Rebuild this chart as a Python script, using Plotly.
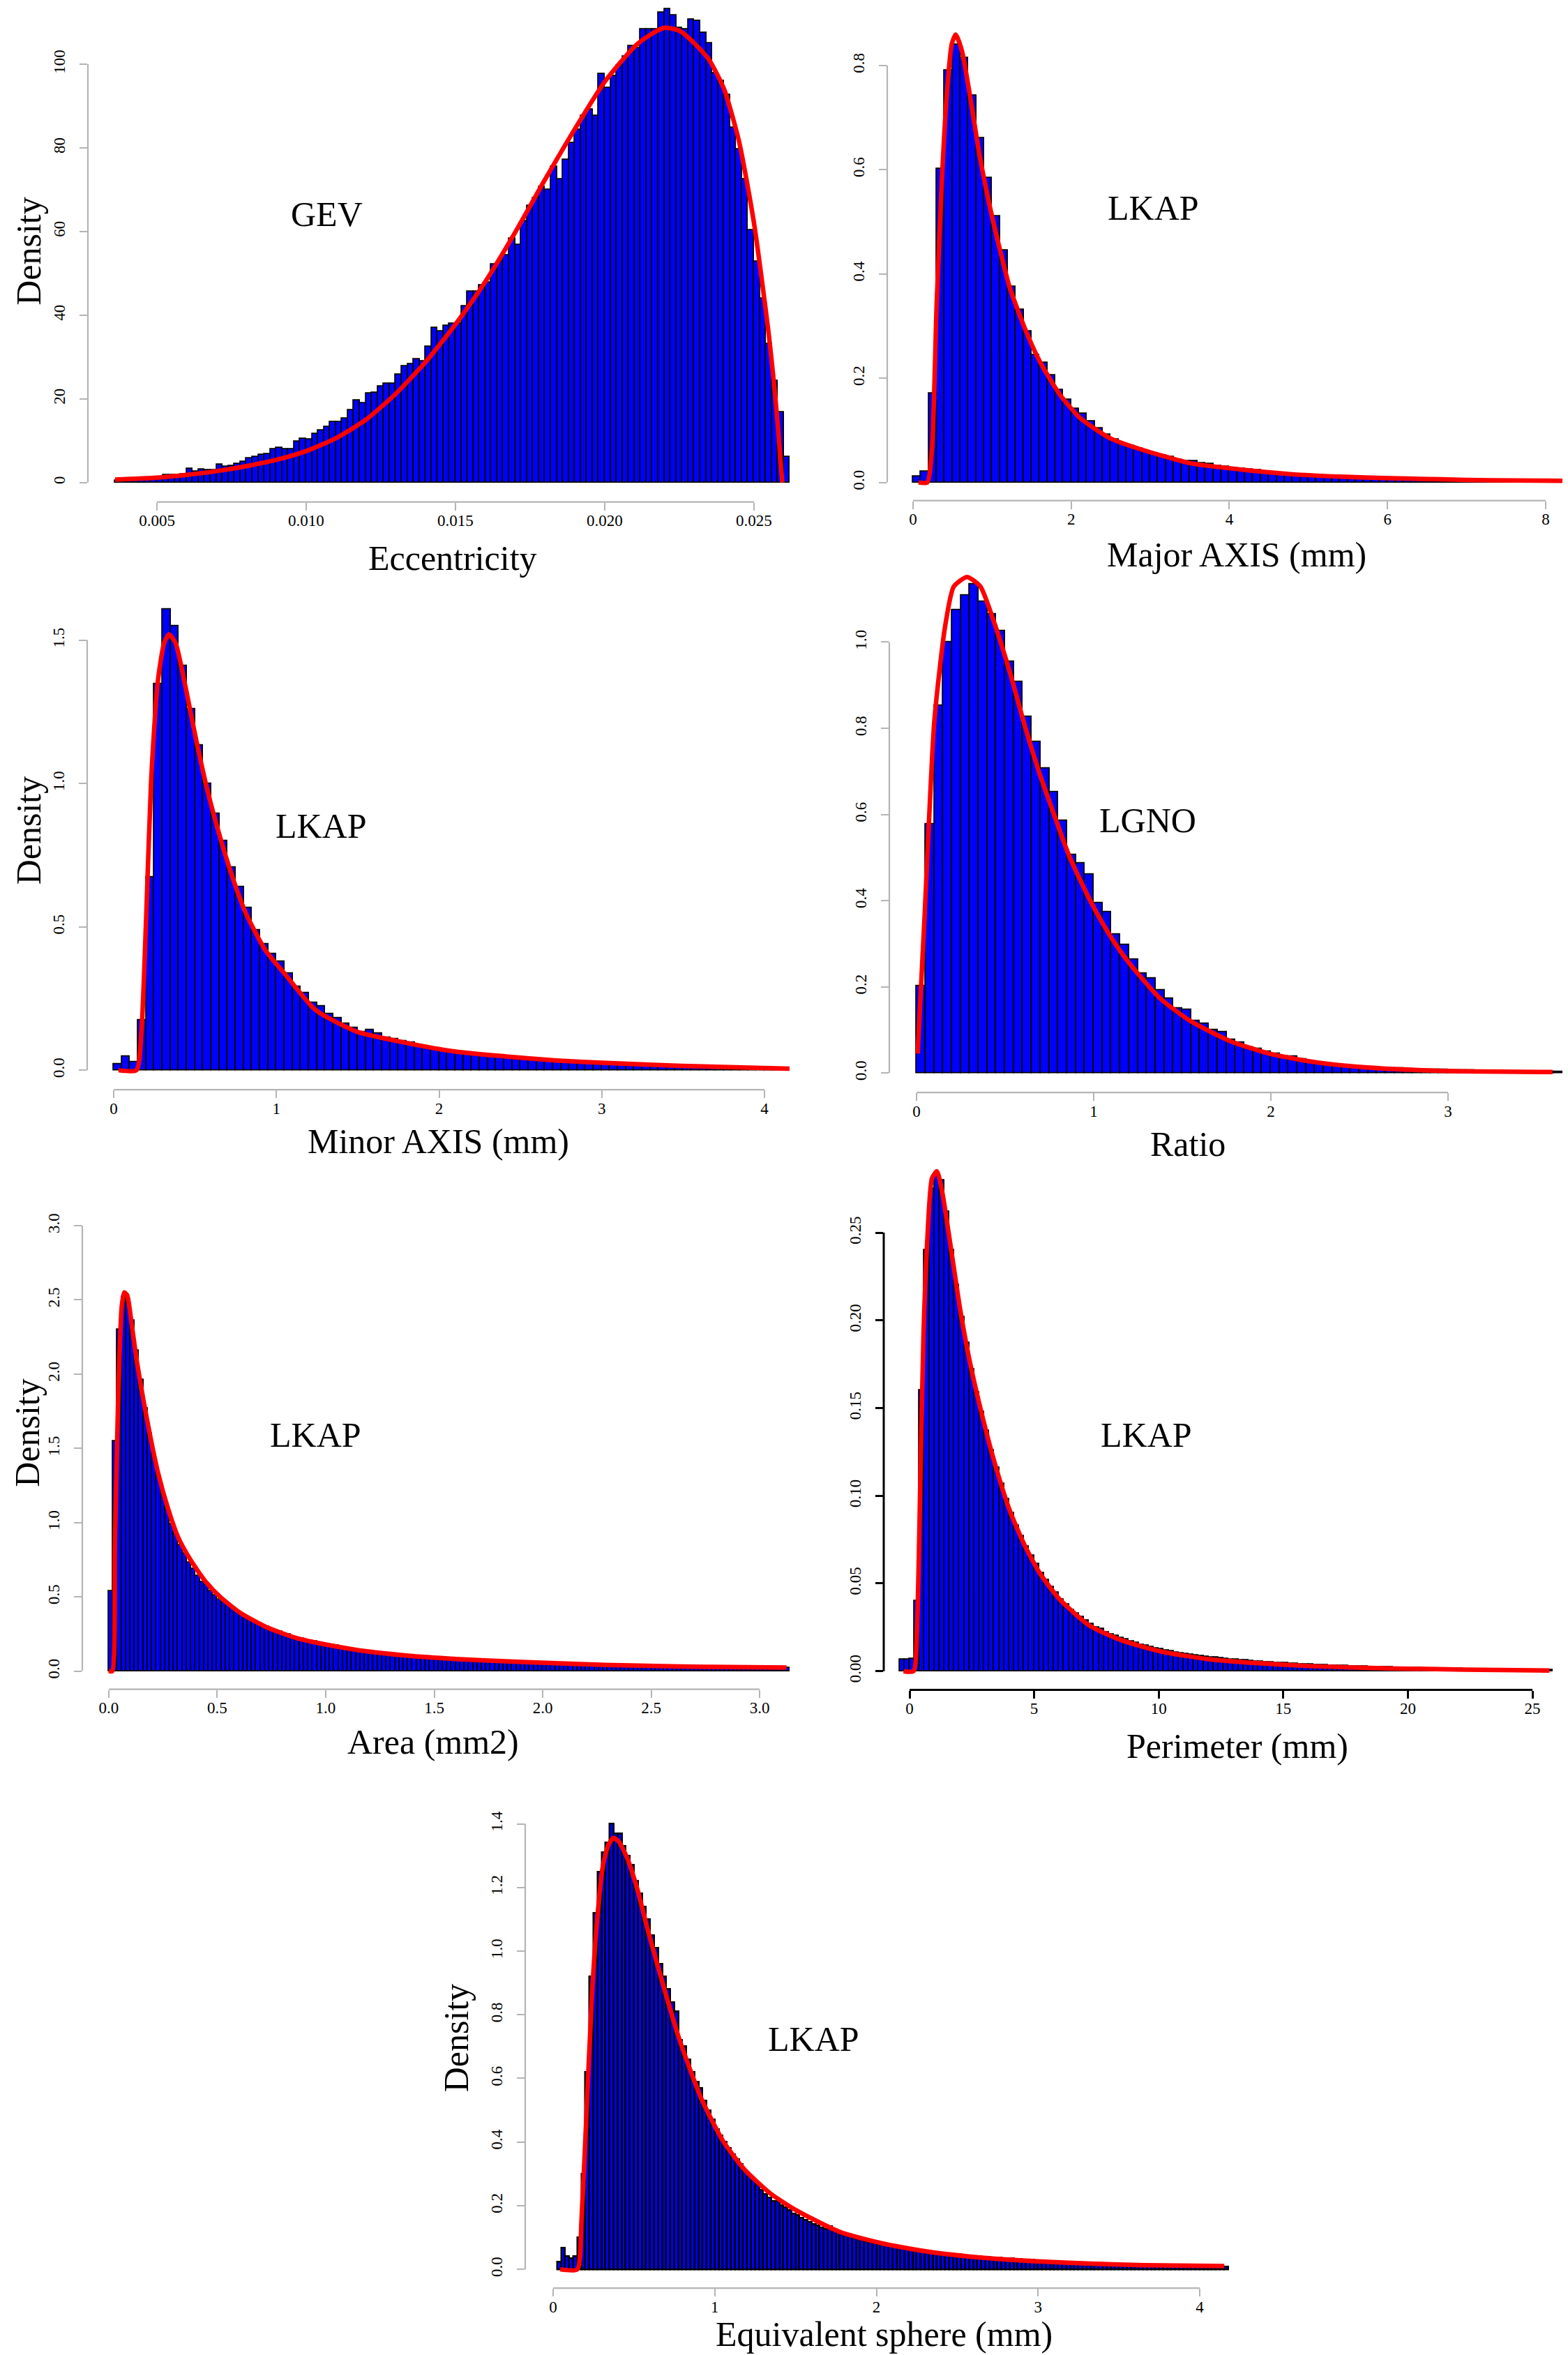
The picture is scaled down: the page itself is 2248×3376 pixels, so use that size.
import numpy as np
import plotly.graph_objects as go

W, H = 2248, 3376
BLUE = "#0000FF"
RED = "#FF0000"
GREY = "#B4B4B4"
FONT = "Liberation Serif"

# ---------------- data ----------------
# Eccentricity (GEV)
ecc_start, ecc_step = 0.0036, 0.0002
ecc_density = [0.5, 0.55, 0.6, 0.7, 0.7, 0.8, 0.9, 1.2, 1.7, 1.7, 1.7, 2.0, 3.2, 2.6, 3.1,
               3.0, 3.0, 4.2, 3.8, 3.9, 4.5, 5.0, 5.7, 6.1, 6.6, 6.8, 7.9, 8.3, 8.0, 8.0,
               9.7, 10.4, 10.3, 11.6, 12.4, 13.3, 14.4, 14.4, 15.2, 17.2, 19.6, 19.0, 21.2,
               21.4, 22.9, 23.6, 23.6,
               25.8, 27.8, 28.3, 29.5, 29.0, 32.4, 37.0, 36.2, 37.4, 37.9, 37.9, 42.2, 45.6,
               45.6, 47.1, 47.8, 52.1, 52.8, 54.3, 58.3, 56.8, 62.5, 66.2, 67.9, 70.7, 69.9,
               75.5, 72.4, 77.2, 81.1, 84.3, 87.6, 89.1, 87.6, 97.6, 94.3, 97.2, 99.7, 101.8,
               104.4, 103.8, 108.3, 108.3, 108.3, 112.3, 113.2, 111.6, 108.6, 108.3, 110.7,
               110.3, 107.5, 105.0, 97.8, 96.0, 92.6, 84.8, 79.6, 72.5, 60.3, 52.8, 43.9,
               33.1, 24.2, 16.7, 6.1]
ecc_fit_x = [0.0036, 0.0050, 0.0060, 0.0070, 0.0080, 0.0090, 0.0100, 0.0110, 0.0120, 0.0130,
             0.0140, 0.0150, 0.0160, 0.0170, 0.0180, 0.0190, 0.0200, 0.0210, 0.0215, 0.0220,
             0.0225, 0.0230, 0.0235, 0.0240, 0.0245, 0.0250, 0.0255, 0.0258, 0.0259, 0.02595]
ecc_fit_y = [0.7, 1.15, 1.8, 2.7, 3.9, 5.4, 7.5, 10.6, 15.0, 21.2, 28.8, 37.8, 48.0, 59.8, 72.4,
             84.5, 95.8, 104.2, 106.9, 108.7, 108.0, 105.0, 101.0, 94.0, 81.5, 62.0, 35.0,
             13.5, 4.0, 0.0]

# Major axis (LKAP)
major_start, major_step = 0.0, 0.1
major_density = [0.012, 0.021, 0.171, 0.602, 0.790, 0.840, 0.814, 0.742, 0.661, 0.584,
                 0.510, 0.445, 0.375, 0.331, 0.290, 0.244, 0.230, 0.205, 0.177, 0.159,
                 0.141, 0.132, 0.117, 0.104, 0.092, 0.083, 0.074, 0.071, 0.065, 0.060,
                 0.055, 0.051, 0.049, 0.044, 0.041, 0.041, 0.037, 0.035, 0.032, 0.030,
                 0.028, 0.026, 0.025, 0.023, 0.021, 0.019, 0.018, 0.017, 0.016, 0.015,
                 0.014, 0.013, 0.012, 0.012, 0.011, 0.010, 0.010, 0.009, 0.009, 0.008,
                 0.008, 0.007, 0.007, 0.007, 0.006, 0.006, 0.006, 0.005, 0.005, 0.005,
                 0.004, 0.004, 0.004, 0.004, 0.003, 0.003, 0.003, 0.003, 0.003, 0.002,
                 0.002, 0.002, 0.002, 0.002]
major_fit_x = [0.07, 0.18, 0.24, 0.30, 0.37, 0.43, 0.49, 0.54, 0.62, 0.72, 0.84, 0.97, 1.09,
               1.22, 1.41, 1.60, 1.85, 2.11, 2.49, 2.87, 3.50, 4.13, 4.77, 5.40, 6.03, 6.66,
               7.30, 8.36]
major_fit_y = [0.0, 0.0, 0.064, 0.346, 0.594, 0.749, 0.841, 0.859, 0.827, 0.742, 0.629, 0.530,
               0.452, 0.375, 0.297, 0.233, 0.170, 0.124, 0.085, 0.064, 0.037, 0.025, 0.016,
               0.011, 0.008, 0.006, 0.004, 0.003]

# Minor axis (LKAP)
minor_start, minor_step = 0.0, 0.05
minor_density = [0.020, 0.048, 0.029, 0.175, 0.672, 1.347, 1.606, 1.548, 1.409, 1.259,
                 1.133, 1.000, 0.895, 0.799, 0.706, 0.638, 0.566, 0.488, 0.440, 0.406,
                 0.379, 0.338, 0.290, 0.270, 0.236, 0.222, 0.195, 0.181, 0.161, 0.147,
                 0.134, 0.140, 0.127, 0.113, 0.109, 0.102, 0.097, 0.086, 0.080, 0.075,
                 0.072, 0.067, 0.063, 0.059, 0.056, 0.053, 0.050, 0.047, 0.044, 0.042,
                 0.041, 0.040, 0.038, 0.033, 0.031, 0.029, 0.027, 0.026, 0.025, 0.024,
                 0.022, 0.020, 0.019, 0.018, 0.016, 0.015, 0.014, 0.013, 0.012, 0.011,
                 0.010, 0.010, 0.009, 0.008, 0.008, 0.007, 0.007, 0.006, 0.006, 0.006,
                 0.005, 0.005, 0.005, 0.004]
minor_fit_x = [0.03, 0.14, 0.17, 0.20, 0.23, 0.27, 0.31, 0.34, 0.38, 0.44, 0.50, 0.57, 0.63,
               0.72, 0.81, 0.93, 1.06, 1.24, 1.49, 1.80, 2.10, 2.41, 2.72, 3.03, 3.49, 4.16]
minor_fit_y = [0.0, 0.0, 0.13, 0.54, 1.01, 1.35, 1.49, 1.52, 1.49, 1.34, 1.17, 0.99, 0.86,
               0.69, 0.55, 0.42, 0.33, 0.21, 0.135, 0.095, 0.065, 0.048, 0.034, 0.025,
               0.015, 0.005]

# Ratio (LGNO)
ratio_start, ratio_step = 0.0, 0.05
ratio_density = [0.202, 0.578, 0.852, 1.000, 1.074, 1.108, 1.135, 1.094, 1.065, 1.026,
                 0.954, 0.908, 0.827, 0.768, 0.707, 0.651, 0.585, 0.506, 0.487, 0.460,
                 0.394, 0.374, 0.322, 0.297, 0.263, 0.231, 0.219, 0.192, 0.172, 0.150,
                 0.147, 0.120, 0.115, 0.100, 0.095, 0.077, 0.071, 0.059, 0.056, 0.050,
                 0.044, 0.038, 0.038, 0.032, 0.027, 0.024, 0.021, 0.018, 0.016, 0.015,
                 0.013, 0.012, 0.011, 0.010, 0.010, 0.009, 0.008, 0.008, 0.007, 0.007,
                 0.006, 0.005, 0.005, 0.004, 0.004, 0.004, 0.003, 0.003, 0.003, 0.002,
                 0.002, 0.002, 0.002]
ratio_fit_x = [0.006, 0.045, 0.10, 0.16, 0.21, 0.285, 0.36, 0.44, 0.53, 0.61, 0.69, 0.78,
               0.86, 0.98, 1.09, 1.20, 1.37, 1.54, 1.77, 1.99, 2.25, 2.53, 2.95, 3.59]
ratio_fit_y = [0.045, 0.363, 0.816, 1.034, 1.129, 1.151, 1.129, 1.043, 0.925, 0.807, 0.700,
               0.595, 0.505, 0.400, 0.320, 0.255, 0.175, 0.122, 0.074, 0.045, 0.025, 0.013,
               0.005, 0.002]

# Area (LKAP)
area_start, area_step = 0.0, 0.02
area_density = [0.54, 1.55, 2.30, 2.52, 2.50, 2.36, 2.16, 1.96, 1.77, 1.60,
                1.45, 1.31, 1.19, 1.09, 0.99, 0.92, 0.85, 0.79, 0.73, 0.69,
                0.64, 0.60, 0.58, 0.54, 0.51, 0.48, 0.46, 0.45, 0.42, 0.40,
                0.39, 0.37, 0.35, 0.34, 0.32, 0.31, 0.30, 0.28, 0.27, 0.265,
                0.25, 0.245, 0.235, 0.225, 0.22, 0.21, 0.205, 0.20, 0.19, 0.185,
                0.18, 0.175, 0.17, 0.165, 0.16, 0.155, 0.15, 0.145, 0.14, 0.136,
                0.132, 0.128, 0.125, 0.121, 0.118, 0.115, 0.112, 0.109, 0.106, 0.104,
                0.101, 0.099, 0.097, 0.095, 0.093, 0.091, 0.089, 0.087, 0.085, 0.083,
                0.082, 0.080, 0.079, 0.077, 0.076, 0.074, 0.073, 0.072, 0.070, 0.069,
                0.068, 0.067, 0.066, 0.064, 0.063, 0.062, 0.061, 0.060, 0.059, 0.058,
                0.057, 0.056, 0.055, 0.054, 0.053, 0.052, 0.051, 0.050, 0.050, 0.049,
                0.048, 0.047, 0.046, 0.046, 0.045, 0.044, 0.043, 0.043, 0.042, 0.041,
                0.041, 0.040, 0.039, 0.039, 0.038, 0.037, 0.037, 0.036, 0.036, 0.035,
                0.035, 0.034, 0.034, 0.033, 0.032, 0.032, 0.031, 0.031, 0.030, 0.030,
                0.030, 0.029, 0.029, 0.028, 0.028, 0.027, 0.027, 0.027, 0.026, 0.026,
                0.025, 0.025, 0.025, 0.024, 0.024, 0.024, 0.023]
area_fit_x = [0.000, 0.016, 0.028, 0.044, 0.060, 0.071, 0.085, 0.106, 0.129, 0.159, 0.194,
              0.228, 0.274, 0.320, 0.378, 0.447, 0.516, 0.608, 0.724, 0.862, 1.000, 1.184,
              1.369, 1.599, 1.829, 2.060, 2.290, 2.521, 2.751, 3.124]
area_fit_y = [0.0, 0.0, 0.83, 1.88, 2.46, 2.55, 2.53, 2.33, 2.09, 1.83, 1.56, 1.33, 1.09,
              0.90, 0.746, 0.601, 0.496, 0.390, 0.298, 0.224, 0.179, 0.134, 0.105, 0.082,
              0.066, 0.053, 0.042, 0.034, 0.029, 0.024]

# Perimeter (LKAP)
perim_start, perim_step = -0.4, 0.2
perim_density = [0.0065, 0.0065, 0.007, 0.04, 0.16, 0.24, 0.275, 0.283, 0.28, 0.262,
                 0.24, 0.22, 0.202, 0.187, 0.172, 0.159, 0.148, 0.137, 0.126, 0.116,
                 0.107, 0.098, 0.090, 0.083, 0.077, 0.071, 0.066, 0.061, 0.056, 0.052,
                 0.048, 0.045, 0.041, 0.038, 0.035, 0.033, 0.031, 0.029, 0.027, 0.025,
                 0.024, 0.022, 0.021, 0.020, 0.019, 0.018, 0.017, 0.016, 0.015, 0.0145,
                 0.0138, 0.013, 0.0124, 0.0118, 0.0112, 0.0107, 0.0102, 0.0098, 0.0094, 0.009,
                 0.0086, 0.0083, 0.008, 0.0077, 0.0074, 0.0071, 0.0068, 0.0066, 0.0063, 0.0061,
                 0.0058, 0.0056, 0.0054, 0.0052, 0.0050, 0.0048, 0.0046, 0.0045, 0.0043, 0.0041,
                 0.0040, 0.0038, 0.0037, 0.0036, 0.0034, 0.0033, 0.0032, 0.0031, 0.0030, 0.0029,
                 0.0028, 0.0027, 0.0026, 0.0025, 0.0024, 0.0023, 0.0022, 0.0022, 0.0021, 0.0020,
                 0.0020, 0.0019, 0.0018, 0.0018, 0.0017, 0.0016, 0.0016, 0.0015, 0.0015, 0.0014,
                 0.0014, 0.0013, 0.0013, 0.0012, 0.0012, 0.0011, 0.0011, 0.0011, 0.0010, 0.0010,
                 0.0009, 0.0009, 0.0009, 0.0008, 0.0008, 0.0008, 0.0007, 0.0007, 0.0007, 0.0006,
                 0.0006]
perim_fit_x = [-0.24, 0.16, 0.30, 0.44, 0.56, 0.72, 0.90, 1.10, 1.30, 1.61, 2.01, 2.41, 2.91,
               3.41, 4.01, 4.61, 5.22, 6.02, 7.22, 8.43, 10.03, 12.04, 14.04, 16.05, 19.26,
               22.27, 25.68]
perim_fit_y = [0.0, 0.0, 0.025, 0.114, 0.192, 0.248, 0.281, 0.285, 0.274, 0.246, 0.208, 0.177,
               0.146, 0.119, 0.092, 0.072, 0.056, 0.041, 0.026, 0.018, 0.0114, 0.0067, 0.0045,
               0.0029, 0.0016, 0.0009, 0.0004]

# Equivalent sphere (LKAP)
sphere_start, sphere_step = 0.025, 0.025
sphere_density = [0.024, 0.067, 0.040, 0.035, 0.040, 0.10, 0.30, 0.62, 0.92, 1.12,
                  1.25, 1.31, 1.34, 1.40, 1.37, 1.37, 1.33, 1.30, 1.27, 1.22,
                  1.18, 1.14, 1.10, 1.05, 1.01, 0.96, 0.92, 0.88, 0.84, 0.81,
                  0.72, 0.70, 0.66, 0.62, 0.59, 0.57, 0.53, 0.50, 0.47, 0.44,
                  0.42, 0.40, 0.38, 0.36, 0.345, 0.33, 0.31, 0.295, 0.28, 0.265,
                  0.25, 0.235, 0.225, 0.215, 0.215, 0.20, 0.195, 0.185, 0.175, 0.17,
                  0.162, 0.155, 0.148, 0.142, 0.137, 0.131, 0.126, 0.135, 0.12, 0.115,
                  0.11, 0.107, 0.103, 0.099, 0.095, 0.091, 0.088, 0.085, 0.082, 0.080,
                  0.077, 0.075, 0.073, 0.071, 0.069, 0.067, 0.065, 0.063, 0.062, 0.061,
                  0.060, 0.058, 0.056, 0.054, 0.052, 0.051, 0.050, 0.049, 0.048, 0.047,
                  0.045, 0.043, 0.042, 0.041, 0.040, 0.039, 0.038, 0.037, 0.036, 0.036,
                  0.035, 0.034, 0.034, 0.033, 0.032, 0.031, 0.030, 0.029, 0.028, 0.028,
                  0.027, 0.026, 0.026, 0.025, 0.024, 0.024, 0.023, 0.023, 0.022, 0.022,
                  0.021, 0.021, 0.020, 0.020, 0.019, 0.019, 0.018, 0.018, 0.017, 0.017,
                  0.016, 0.016, 0.015, 0.015, 0.015, 0.014, 0.014, 0.014, 0.013, 0.013,
                  0.013, 0.012, 0.012, 0.012, 0.011, 0.011, 0.011, 0.011, 0.010, 0.010,
                  0.010, 0.010, 0.009, 0.009, 0.009, 0.009]
sphere_fit_x = [0.043, 0.149, 0.175, 0.208, 0.241, 0.274, 0.307, 0.340, 0.373, 0.406, 0.455,
                0.521, 0.587, 0.686, 0.785, 0.917, 1.050, 1.181, 1.347, 1.512, 1.776, 2.040,
                2.337, 2.667, 2.997, 3.327, 3.657, 4.152]
sphere_fit_y = [0.0, 0.0, 0.153, 0.512, 0.871, 1.110, 1.266, 1.332, 1.356, 1.344, 1.296, 1.194,
                1.063, 0.883, 0.716, 0.536, 0.404, 0.315, 0.237, 0.183, 0.117, 0.081, 0.054,
                0.036, 0.025, 0.018, 0.013, 0.010]

# tick labels
ecc_xticks = ["0.005", "0.010", "0.015", "0.020", "0.025"]
ecc_yticks = ["0", "20", "40", "60", "80", "100"]
major_xticks = ["0", "2", "4", "6", "8"]
major_yticks = ["0.0", "0.2", "0.4", "0.6", "0.8"]
minor_xticks = ["0", "1", "2", "3", "4"]
minor_yticks = ["0.0", "0.5", "1.0", "1.5"]
ratio_xticks = ["0", "1", "2", "3"]
ratio_yticks = ["0.0", "0.2", "0.4", "0.6", "0.8", "1.0"]
area_xticks = ["0.0", "0.5", "1.0", "1.5", "2.0", "2.5", "3.0"]
area_yticks = ["0.0", "0.5", "1.0", "1.5", "2.0", "2.5", "3.0"]
perim_xticks = ["0", "5", "10", "15", "20", "25"]
perim_yticks = ["0.00", "0.05", "0.10", "0.15", "0.20", "0.25"]
sphere_xticks = ["0", "1", "2", "3", "4"]
sphere_yticks = ["0.0", "0.2", "0.4", "0.6", "0.8", "1.0", "1.2", "1.4"]

# ---------------- layout of the 7 panels (pixel boxes) ----------------
panels = [
    dict(start=ecc_start, step=ecc_step, dens=ecc_density, fx=ecc_fit_x, fy=ecc_fit_y,
         xt=ecc_xticks, yt=ecc_yticks, box=(118, 1124, 0, 710),
         xr=[0.002687, 0.026192], yr=[-4.667, 113.67], axcol=GREY, edge=1.8,
         xlab=("Eccentricity", 641, 790), name=("GEV", 460, 297), ylab=(33, 350)),
    dict(start=major_start, step=major_step, dens=major_density, fx=major_fit_x, fy=major_fit_y,
         xt=major_xticks, yt=major_yticks, box=(1264, 2248, 0, 708),
         xr=[-0.326, 8.353], yr=[-0.0348, 0.912], axcol=GREY, edge=1.8,
         xlab=("Major AXIS (mm)", 1765, 785), name=("LKAP", 1645, 288), ylab=None),
    dict(start=minor_start, step=minor_step, dens=minor_density, fx=minor_fit_x, fy=minor_fit_y,
         xt=minor_xticks, yt=minor_yticks, box=(117, 1124, 840, 1553),
         xr=[-0.163, 4.154], yr=[-0.068, 1.6655], axcol=GREY, edge=1.8,
         xlab=("Minor AXIS (mm)", 620, 1627), name=("LKAP", 452, 1175), ylab=(33, 1181)),
    dict(start=ratio_start, step=ratio_step, dens=ratio_density, fx=ratio_fit_x, fy=ratio_fit_y,
         xt=ratio_xticks, yt=ratio_yticks, box=(1267, 2248, 800, 1557),
         xr=[-0.154, 3.709], yr=[-0.0453, 1.1796], axcol=GREY, edge=1.8,
         xlab=("Ratio", 1695, 1631), name=("LGNO", 1637, 1167), ylab=None),
    dict(start=area_start, step=area_step, dens=area_density, fx=area_fit_x, fy=area_fit_y,
         xt=area_xticks, yt=area_yticks, box=(110, 1124, 1730, 2413),
         xr=[-0.122, 3.138], yr=[-0.122, 3.0846], axcol=GREY, edge=1.8,
         xlab=("Area (mm2)", 613, 2488), name=("LKAP", 445, 2048), ylab=(31, 2045)),
    dict(start=perim_start, step=perim_step, dens=perim_density, fx=perim_fit_x, fy=perim_fit_y,
         xt=perim_xticks, yt=perim_yticks, box=(1259, 2248, 1660, 2414),
         xr=[-1.036, 26.65], yr=[-0.0107, 0.2890], axcol="black", edge=1.8,
         xlab=("Perimeter (mm)", 1766, 2494), name=("LKAP", 1635, 2048), ylab=None),
    dict(start=sphere_start, step=sphere_step, dens=sphere_density, fx=sphere_fit_x, fy=sphere_fit_y,
         xt=sphere_xticks, yt=sphere_yticks, box=(745, 1760, 2590, 3272),
         xr=[-0.173, 4.207], yr=[-0.059, 1.4353], axcol=GREY, edge=2.5,
         xlab=("Equivalent sphere (mm)", 1259, 3338), name=("LKAP", 1158, 2915), ylab=(646, 2913)),
]

fig = go.Figure()
annotations = []
shapes = []


def to_paper(v, r, d0, d1):
    return d0 + (v - r[0]) / (r[1] - r[0]) * (d1 - d0)


for i, p in enumerate(panels, start=1):
    sfx = "" if i == 1 else str(i)
    xa, ya = "x" + sfx, "y" + sfx
    left, right, top, bottom = p["box"]
    xdom = [left / W, right / W]
    ydom = [1 - bottom / H, 1 - top / H]

    n = len(p["dens"])
    centers = p["start"] + p["step"] * (np.arange(n) + 0.5)
    fig.add_trace(go.Bar(
        x=centers, y=p["dens"], width=p["step"],
        marker=dict(color=BLUE, line=dict(color="black", width=p["edge"])),
        xaxis=xa, yaxis=ya, hoverinfo="skip"))
    fig.add_trace(go.Scatter(
        x=p["fx"], y=p["fy"], mode="lines",
        line=dict(color=RED, width=6.5, shape="spline", smoothing=0.6),
        xaxis=xa, yaxis=ya, hoverinfo="skip"))

    xvals = [float(t) for t in p["xt"]]
    yvals = [float(t) for t in p["yt"]]
    axw = 3 if p["axcol"] == "black" else 2.2
    common = dict(ticks="outside", ticklen=11, tickwidth=axw, tickcolor=p["axcol"],
                  showline=False, showgrid=False, zeroline=False, fixedrange=True,
                  tickfont=dict(family=FONT, size=23, color="black"))
    fig.layout["xaxis" + sfx] = dict(domain=xdom, range=p["xr"], anchor=ya, ticklabelstandoff=-5,
                                     tickmode="array", tickvals=xvals, ticktext=p["xt"], **common)
    fig.layout["yaxis" + sfx] = dict(domain=ydom, range=p["yr"], anchor=xa, tickangle=-90,
                                     ticklabelstandoff=12,
                                     tickmode="array", tickvals=yvals, ticktext=p["yt"], **common)

    # R style axis lines that only run from the first to the last tick
    shapes.append(dict(type="line", xref="paper", yref="paper",
                       x0=to_paper(xvals[0], p["xr"], *xdom), x1=to_paper(xvals[-1], p["xr"], *xdom),
                       y0=ydom[0], y1=ydom[0],
                       line=dict(color=p["axcol"], width=axw)))
    shapes.append(dict(type="line", xref="paper", yref="paper",
                       x0=xdom[0], x1=xdom[0],
                       y0=to_paper(yvals[0], p["yr"], *ydom), y1=to_paper(yvals[-1], p["yr"], *ydom),
                       line=dict(color=p["axcol"], width=axw)))

    for txt, tx, ty in (p["xlab"], p["name"]):
        annotations.append(dict(text=txt, x=tx / W, y=1 - ty / H, xref="paper", yref="paper",
                                showarrow=False, xanchor="center", yanchor="middle",
                                font=dict(family=FONT, size=50, color="black")))
    if p["ylab"] is not None:
        tx, ty = p["ylab"]
        annotations.append(dict(text="Density", x=tx / W, y=1 - ty / H, xref="paper", yref="paper",
                                showarrow=False, xanchor="center", yanchor="middle", textangle=-90,
                                font=dict(family=FONT, size=50, color="black")))

fig.update_layout(
    width=W, height=H,
    margin=dict(l=0, r=0, t=0, b=0),
    paper_bgcolor="white", plot_bgcolor="white",
    showlegend=False, barmode="overlay", bargap=0,
    annotations=annotations, shapes=shapes,
)

fig.write_html("out.html")
